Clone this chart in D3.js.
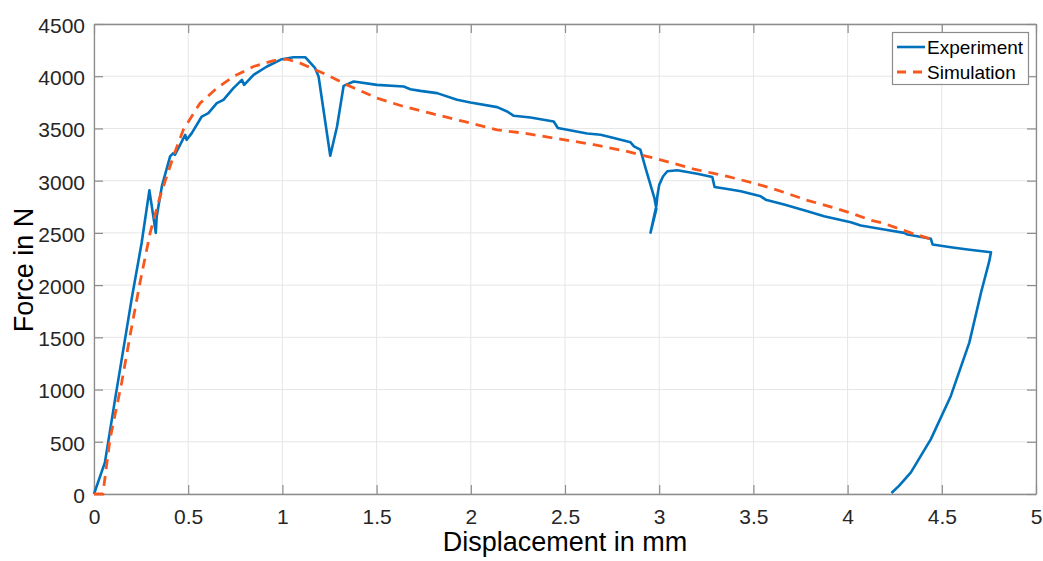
<!DOCTYPE html>
<html>
<head>
<meta charset="utf-8">
<script src="https://cdn.jsdelivr.net/npm/d3@7"></script>
<style>
  body { margin: 0; background: white; }
  text { font-family: "Liberation Sans", Arial, sans-serif; }
</style>
</head>
<body>
<div id="chart"></div>
<script>
// data
var expX = [0, 0.058, 0.112, 0.17, 0.2, 0.253, 0.294, 0.328, 0.333, 0.36, 0.404, 0.421, 0.43, 0.484, 0.492,
  0.519, 0.572, 0.607, 0.652, 0.687, 0.74, 0.785, 0.797, 0.847, 0.918, 0.997, 1.059, 1.121, 1.174, 1.192,
  1.254, 1.29, 1.325, 1.378, 1.502, 1.644, 1.679, 1.732, 1.821, 1.927, 1.998, 2.14, 2.193, 2.228, 2.317,
  2.44, 2.462, 2.618, 2.689, 2.759, 2.848, 2.866, 2.9, 2.93, 2.975, 2.985, 2.954, 2.985, 2.99, 3.0, 3.02,
  3.043, 3.096, 3.202, 3.282, 3.294, 3.362, 3.433, 3.539, 3.565, 3.663, 3.787, 3.875, 4.017, 4.07, 4.194,
  4.3, 4.318, 4.442, 4.451, 4.548, 4.637, 4.761, 4.752, 4.708, 4.646, 4.548, 4.442, 4.336, 4.274, 4.233]
var expY = [0, 303, 908, 1540, 1870, 2405, 2907, 2500, 2659, 2945, 3232, 3264, 3248, 3439, 3391,
  3455, 3614, 3646, 3742, 3774, 3886, 3965, 3917, 4013, 4093, 4163, 4182, 4182, 4077, 3997,
  3239, 3519, 3908, 3949, 3917, 3901, 3876, 3860, 3838, 3774, 3748, 3704, 3662, 3621, 3605,
  3567, 3504, 3451, 3440, 3408, 3367, 3329, 3297, 3105, 2830, 2730, 2503, 2760, 2850, 2960, 3040,
  3090, 3100, 3067, 3035, 2940, 2920, 2898, 2850, 2818, 2771, 2707, 2659, 2602, 2570, 2532,
  2500, 2484, 2443, 2389, 2363, 2341, 2315, 2229, 1927, 1449, 939, 525, 207, 80, 10]

var simX = [0, 0.047, 0.085, 0.147, 0.191, 0.244, 0.298, 0.351, 0.421, 0.474, 0.563, 0.652, 0.74, 0.847,
  0.953, 1.024, 1.095, 1.236, 1.343, 1.502, 1.644, 1.785, 1.962, 2.14, 2.281, 2.476, 2.653, 2.83, 3.007,
  3.184, 3.362, 3.486, 3.61, 3.787, 3.929, 4.017, 4.123, 4.194, 4.336, 4.451]
var simY = [0, 0, 526, 1067, 1513, 2023, 2500, 2850, 3232, 3487, 3742, 3886, 3997, 4093,
  4150, 4163, 4125, 4013, 3917, 3790, 3710, 3646, 3567, 3487, 3455, 3398, 3344, 3280, 3200,
  3111, 3041, 2984, 2920, 2812, 2739, 2691, 2621, 2590, 2500, 2436]

var xTicks = [0, 0.5, 1, 1.5, 2, 2.5, 3, 3.5, 4, 4.5, 5]
var yTicks = [0, 500, 1000, 1500, 2000, 2500, 3000, 3500, 4000, 4500]
var seriesNames = ["Experiment", "Simulation"]

// dimensions
var W = 1043, H = 561
var margin = {top: 24, right: 7, bottom: 67, left: 94}
var width = W - margin.left - margin.right
var height = H - margin.top - margin.bottom

var svg = d3.select("#chart").append("svg")
  .attr("width", W)
  .attr("height", H)

var g = svg.append("g")
  .attr("transform", "translate(" + margin.left + "," + margin.top + ")")

var x = d3.scaleLinear().domain([0, 5]).range([0, width])
var y = d3.scaleLinear().domain([0, 4500]).range([height, 0])

var axisColor = "#8c8c8c"
var gridColor = "#e6e6e6"
var textColor = "#262626"

// grid
g.append("g").selectAll("line").data(xTicks).enter().append("line")
  .attr("x1", d => x(d)).attr("x2", d => x(d))
  .attr("y1", 0).attr("y2", height)
  .attr("stroke", gridColor).attr("stroke-width", 1)
g.append("g").selectAll("line").data(yTicks).enter().append("line")
  .attr("x1", 0).attr("x2", width)
  .attr("y1", d => y(d)).attr("y2", d => y(d))
  .attr("stroke", gridColor).attr("stroke-width", 1)

// axes, ticks pointing inward (box on all four sides)
function styleAxis(sel) {
  sel.select(".domain").attr("stroke", axisColor).attr("stroke-width", 1.3)
  sel.selectAll(".tick line").attr("stroke", axisColor).attr("stroke-width", 1.2)
  sel.selectAll(".tick text").attr("fill", textColor).style("font-size", "21px")
}

var xAxis = g.append("g")
  .attr("transform", "translate(0," + height + ")")
  .call(d3.axisBottom(x).tickValues(xTicks).tickSizeInner(-9).tickSizeOuter(0).tickPadding(15)
    .tickFormat(d3.format("")))
styleAxis(xAxis)

var xAxisTop = g.append("g")
  .call(d3.axisTop(x).tickValues(xTicks).tickSizeInner(-9).tickSizeOuter(0).tickFormat(""))
styleAxis(xAxisTop)

var yAxis = g.append("g")
  .call(d3.axisLeft(y).tickValues(yTicks).tickSizeInner(-9).tickSizeOuter(0).tickPadding(9)
    .tickFormat(d3.format("")))
styleAxis(yAxis)
yAxis.selectAll(".tick text").attr("dy", "0.4em")

var yAxisRight = g.append("g")
  .attr("transform", "translate(" + width + ",0)")
  .call(d3.axisRight(y).tickValues(yTicks).tickSizeInner(-9).tickSizeOuter(0).tickFormat(""))
styleAxis(yAxisRight)

// lines
var expData = expX.map((d, i) => [d, expY[i]])
var simData = simX.map((d, i) => [d, simY[i]])

var line = d3.line()
  .x(d => x(d[0]))
  .y(d => y(d[1]))

var colors = ["#0072BD", "#F8581E"]

g.append("path")
  .datum(expData)
  .attr("d", line)
  .attr("fill", "none")
  .attr("stroke", colors[0])
  .attr("stroke-width", 2.6)
  .attr("stroke-linejoin", "round")

g.append("path")
  .datum(simData)
  .attr("d", line)
  .attr("fill", "none")
  .attr("stroke", colors[1])
  .attr("stroke-width", 2.8)
  .attr("stroke-dasharray", "10,7")

// axis labels
svg.append("text")
  .attr("x", margin.left + width / 2)
  .attr("y", 551)
  .attr("text-anchor", "middle")
  .style("font-size", "27px")
  .attr("fill", "#000")
  .text("Displacement in mm")

svg.append("text")
  .attr("transform", "translate(33,270) rotate(-90)")
  .attr("text-anchor", "middle")
  .style("font-size", "27px")
  .attr("fill", "#000")
  .text("Force in N")

// legend
var legend = svg.append("g")
legend.append("rect")
  .attr("x", 892.5).attr("y", 32.5)
  .attr("width", 136).attr("height", 52)
  .attr("fill", "white")
  .attr("stroke", axisColor).attr("stroke-width", 1.2)

var legendItems = legend.selectAll("g.item")
  .data(seriesNames)
  .enter().append("g")
  .attr("class", "item")
  .attr("transform", (d, i) => "translate(0," + (47 + i * 25) + ")")

legendItems.append("line")
  .attr("x1", 897).attr("x2", 925)
  .attr("y1", 0).attr("y2", 0)
  .attr("stroke", (d, i) => colors[i])
  .attr("stroke-width", (d, i) => i === 0 ? 2.6 : 2.8)
  .attr("stroke-dasharray", (d, i) => i === 0 ? null : "9,7")

legendItems.append("text")
  .attr("x", 927)
  .attr("y", 7)
  .style("font-size", "19px")
  .attr("fill", "#000")
  .text(d => d)
</script>
</body>
</html>
